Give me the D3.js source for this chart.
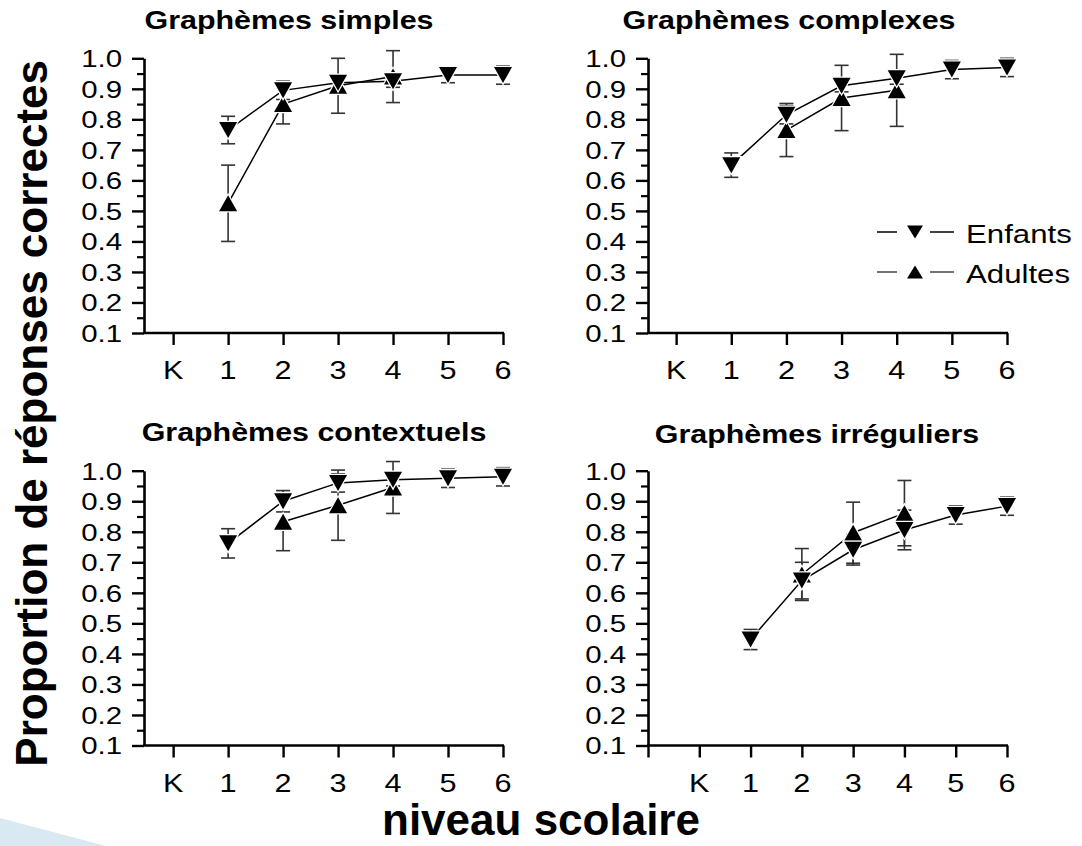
<!DOCTYPE html>
<html>
<head>
<meta charset="utf-8">
<script src="https://cdn.jsdelivr.net/npm/d3@7"></script>
<style>
  html, body { margin: 0; padding: 0; background: #fff; }
  svg { display: block; font-family: "Liberation Sans", Arial, sans-serif; }
</style>
</head>
<body>
<svg id="chart" width="1082" height="846"></svg>
<script>
// ---------- data ----------
const categories = ["K", "1", "2", "3", "4", "5", "6"];
const yTickValues = [0.1, 0.2, 0.3, 0.4, 0.5, 0.6, 0.7, 0.8, 0.9, 1.0];
const seriesNames = ["Enfants", "Adultes"];
const panelTitles = ["Graphèmes simples", "Graphèmes complexes", "Graphèmes contextuels", "Graphèmes irréguliers"];

const simplesEnfants      = [null, 0.765, 0.895, 0.92, 0.925, 0.945, 0.945];
const simplesEnfantsErr   = [null, 0.045, 0.03, 0.02, 0.02, 0.025, 0.03];
const simplesAdultes      = [null, 0.525, 0.85, 0.91, 0.94, null, null];
const simplesAdultesErr   = [null, 0.125, 0.065, 0.09, 0.085, null, null];

const complexesEnfants    = [null, 0.65, 0.815, 0.91, 0.935, 0.963, 0.97];
const complexesEnfantsErr = [null, 0.04, 0.03, 0.02, 0.02, 0.03, 0.03];
const complexesAdultes    = [null, null, 0.765, 0.87, 0.895, null, null];
const complexesAdultesErr = [null, null, 0.087, 0.107, 0.118, null, null];

const contextEnfants      = [null, 0.762, 0.9, 0.96, 0.97, 0.975, 0.98];
const contextEnfantsErr   = [null, 0.048, 0.035, 0.03, 0.02, 0.03, 0.03];
const contextAdultes      = [null, null, 0.833, 0.887, 0.945, null, null];
const contextAdultesErr   = [null, null, 0.095, 0.115, 0.085, null, null];

const irregEnfants        = [null, 0.447, 0.64, 0.741, 0.806, 0.855, 0.884];
const irregEnfantsErr     = [null, 0.033, 0.06, 0.05, 0.065, 0.03, 0.03];
const irregAdultes        = [null, null, 0.66, 0.797, 0.861, null, null];
const irregAdultesErr     = [null, null, 0.085, 0.1, 0.107, null, null];

// ---------- layout ----------
const SX = 1.2; // horizontal stretch of the panel pictures
const panels = [
  { title: panelTitles[0], e: simplesEnfants, eErr: simplesEnfantsErr, a: simplesAdultes, aErr: simplesAdultesErr,
    left: 144, right: 503, top: 58.3, bottom: 333, xmin: -0.53, ticks: [0,1,2,3,4,5,6], tx: 289, ty: 29 },
  { title: panelTitles[1], e: complexesEnfants, eErr: complexesEnfantsErr, a: complexesAdultes, aErr: complexesAdultesErr,
    left: 648, right: 1007, top: 58.3, bottom: 333, xmin: -0.51, ticks: [0,1,2,3,4,5,6], tx: 789, ty: 29, legend: true },
  { title: panelTitles[2], e: contextEnfants, eErr: contextEnfantsErr, a: contextAdultes, aErr: contextAdultesErr,
    left: 144, right: 503, top: 470.7, bottom: 745.5, xmin: -0.53, ticks: [0,1,2,3,4,5,6], tx: 314, ty: 441 },
  { title: panelTitles[3], e: irregEnfants, eErr: irregEnfantsErr, a: irregAdultes, aErr: irregAdultesErr,
    left: 648, right: 1007, top: 470.7, bottom: 745.5, xmin: -1, ticks: [-1,0,1,2,3,4,5,6], tx: 817, ty: 443 }
];

const svg = d3.select("#chart");

// decorative light-blue shape bottom-left
svg.append("path").attr("d", "M0,818 L106,846 L0,846 Z").attr("fill", "#d8e9f1");

const downTri = "M-9,-8 L9,-8 L0,8 Z";
const upTri = "M-9,8 L9,8 L0,-8 Z";

function stretchedText(g, x, y, txt, opts) {
  const t = g.append("text")
    .attr("transform", `translate(${x},${y}) scale(${opts.sx || SX},1)`)
    .attr("text-anchor", opts.anchor || "start")
    .attr("font-size", opts.size)
    .attr("font-weight", opts.weight || "normal")
    .attr("fill", "#000")
    .text(txt);
  if (opts.dy) t.attr("dy", opts.dy);
  return t;
}

panels.forEach(p => {
  const g = svg.append("g");
  const x = d3.scaleLinear().domain([p.xmin, 6]).range([p.left, p.right]);
  const y = d3.scaleLinear().domain([0.1, 1.0]).range([p.bottom, p.top]);

  // y axis with minor ticks
  const minor = d3.range(0.15, 1.0, 0.1);
  g.append("g").attr("transform", `translate(${p.left},0)`)
    .call(d3.axisLeft(y).tickValues(minor).tickSize(7).tickFormat(""))
    .call(a => { a.select(".domain").remove(); a.selectAll("line").attr("stroke", "#000").attr("stroke-width", 2.2); });
  const yAx = g.append("g").attr("transform", `translate(${p.left},0)`)
    .call(d3.axisLeft(y).tickValues(yTickValues).tickSize(12).tickSizeOuter(0).tickFormat(""));
  yAx.select(".domain").attr("stroke", "#000").attr("stroke-width", 2.6);
  yAx.selectAll("line").attr("stroke", "#000").attr("stroke-width", 2.4);
  yTickValues.forEach(v => {
    stretchedText(g, p.left - 22, y(v), d3.format(".1f")(v), { anchor: "end", size: 24.5, dy: "0.36em" });
  });

  // x axis
  const xAx = g.append("g").attr("transform", `translate(0,${p.bottom})`)
    .call(d3.axisBottom(x).tickValues(p.ticks).tickSize(12).tickSizeOuter(0).tickFormat(""));
  xAx.select(".domain").attr("stroke", "#000").attr("stroke-width", 2.6)
    .attr("d", `M${p.left - 1},0H${p.right + 1}`);
  xAx.selectAll("line").attr("stroke", "#000").attr("stroke-width", 2.4);
  p.ticks.filter(t => t >= 0).forEach(t => {
    stretchedText(g, x(t), p.bottom + 46, categories[t], { anchor: "middle", size: 25.5 });
  });

  // title
  stretchedText(g, p.tx, p.ty, p.title, { anchor: "middle", size: 26, weight: "bold", sx: 1.17 });

  // series
  const series = [
    { vals: p.a, err: p.aErr, shape: upTri },
    { vals: p.e, err: p.eErr, shape: downTri }
  ];
  const line = d3.line().defined(d => d.v != null).x(d => x(d.i)).y(d => y(d.v));
  series.forEach(s => {
    const pts = s.vals.map((v, i) => ({ i, v }));
    g.append("path").datum(pts).attr("d", line).attr("fill", "none").attr("stroke", "#000").attr("stroke-width", 1.5);
  });
  series.forEach(s => {
    const pts = s.vals.map((v, i) => ({ i, v, e: s.err[i] })).filter(d => d.v != null);
    const eb = g.append("g").attr("stroke", "#333").attr("stroke-width", 1.6);
    pts.forEach(d => {
      eb.append("line").attr("x1", x(d.i)).attr("x2", x(d.i)).attr("y1", y(d.v - d.e)).attr("y2", y(d.v + d.e));
      [d.v - d.e, d.v + d.e].forEach(c => {
        eb.append("line").attr("x1", x(d.i) - 7).attr("x2", x(d.i) + 7).attr("y1", y(c)).attr("y2", y(c));
      });
    });
  });
  series.forEach(s => {
    const pts = s.vals.map((v, i) => ({ i, v })).filter(d => d.v != null);
    g.selectAll(null).data(pts).enter().append("path")
      .attr("d", s.shape)
      .attr("transform", d => `translate(${x(d.i)},${y(d.v)})`)
      .attr("fill", "#000").attr("stroke", "#fff").attr("stroke-width", 2.5)
      .attr("paint-order", "stroke");
  });

  // legend
  if (p.legend) {
    const rows = [{ name: seriesNames[0], shape: "M-8,-6.5 L8,-6.5 L0,6.5 Z", y: 232, col: "#000" },
                  { name: seriesNames[1], shape: "M-8,6.5 L8,6.5 L0,-6.5 Z", y: 272, col: "#444" }];
    rows.forEach(r => {
      g.append("line").attr("x1", 877).attr("x2", 897).attr("y1", r.y).attr("y2", r.y).attr("stroke", r.col).attr("stroke-width", 1.5);
      g.append("line").attr("x1", 930).attr("x2", 954).attr("y1", r.y).attr("y2", r.y).attr("stroke", r.col).attr("stroke-width", 1.5);
      g.append("path").attr("d", r.shape).attr("transform", `translate(915,${r.y})`).attr("fill", "#000");
      stretchedText(g, 966, r.y + 11, r.name, { size: 26 });
    });
  }
});

// axis titles (not stretched)
svg.append("text")
  .attr("transform", "translate(47,60) rotate(-90)")
  .attr("text-anchor", "end")
  .attr("font-size", 44).attr("font-weight", "bold")
  .text("Proportion de réponses correctes");
svg.append("text")
  .attr("x", 541).attr("y", 835)
  .attr("text-anchor", "middle")
  .attr("font-size", 44).attr("font-weight", "bold")
  .text("niveau scolaire");
</script>
</body>
</html>
